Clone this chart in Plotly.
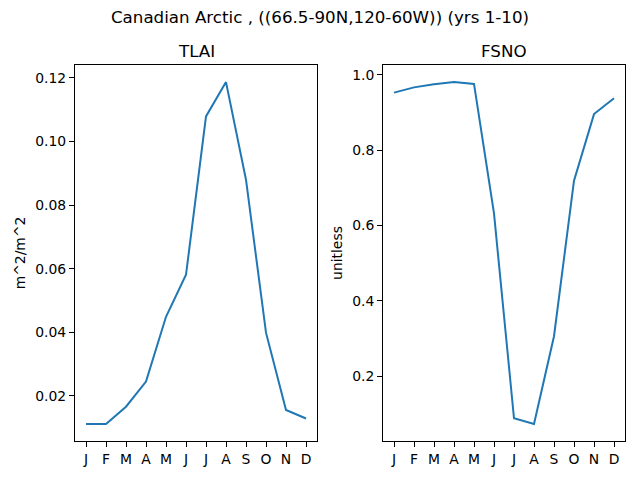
import plotly.graph_objects as go
from plotly.subplots import make_subplots

months = ['J', 'F', 'M', 'A', 'M', 'J', 'J', 'A', 'S', 'O', 'N', 'D']
month_idx = list(range(12))
tlai = [0.0112, 0.0112, 0.0166, 0.0245, 0.0449, 0.0581, 0.1079, 0.1187, 0.0880, 0.0399, 0.0156, 0.0129]
fsno = [0.953, 0.967, 0.975, 0.981, 0.976, 0.632, 0.088, 0.073, 0.306, 0.719, 0.896, 0.938]

line_col = '#1f77b4'
font_fam = 'DejaVu Sans'

fig = make_subplots(rows=1, cols=2, subplot_titles=('TLAI', 'FSNO'),
                    horizontal_spacing=0.12)
fig.add_trace(go.Scatter(x=month_idx, y=tlai, mode='lines',
                         line=dict(color=line_col, width=2)), row=1, col=1)
fig.add_trace(go.Scatter(x=month_idx, y=fsno, mode='lines',
                         line=dict(color=line_col, width=2)), row=1, col=2)

# matplotlib-like 5% margins
def pad(vals):
    lo, hi = min(vals), max(vals)
    d = (hi - lo) * 0.05
    return [lo - d, hi + d]

ax_style = dict(showline=True, linecolor='black', linewidth=1, mirror=True,
                ticks='outside', ticklen=5, tickcolor='black', showgrid=False,
                zeroline=False, tickfont=dict(size=13.9, color='black'))

for c in (1, 2):
    fig.update_xaxes(tickvals=month_idx, ticktext=months, range=[-0.55, 11.55],
                     row=1, col=c, **ax_style)

fig.update_yaxes(range=pad(tlai), dtick=0.02, tickformat='.2f',
                 title=dict(text='m^2/m^2', font=dict(size=13.9), standoff=6),
                 row=1, col=1, **ax_style)
fig.update_yaxes(range=pad(fsno), tickvals=[0.2, 0.4, 0.6, 0.8, 1.0], tickformat='.1f',
                 title=dict(text='unitless', font=dict(size=13.9), standoff=6),
                 row=1, col=2, **ax_style)

for a in fig.layout.annotations:
    a.font = dict(size=16.7, color='black', family=font_fam)
    a.yshift = 2

# page body has an 8px margin, so shift everything up/left by 8
fig.update_layout(
    width=640, height=480,
    margin=dict(l=67, r=23, t=57, b=47),
    paper_bgcolor='white', plot_bgcolor='white',
    showlegend=False,
    font=dict(family=font_fam, color='black'),
    title=dict(text='Canadian Arctic , ((66.5-90N,120-60W)) (yrs 1-10)',
               x=(320 - 8) / 640, xanchor='center', y=1 - 9 / 480, yanchor='middle',
               font=dict(size=16.7, color='black')),
)

fig.write_html("out.html")
